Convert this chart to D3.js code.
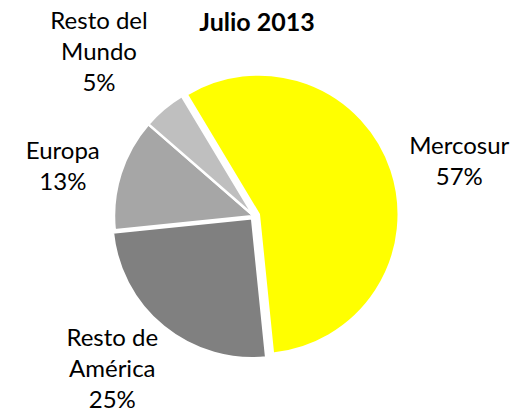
<!DOCTYPE html>
<html>
<head>
<meta charset="utf-8">
<script src="https://cdn.jsdelivr.net/npm/d3@7"></script>
<style>
  body { margin: 0; background: #fff; }
  text { font-family: Lato, "Open Sans", sans-serif; fill: #000; }
</style>
</head>
<body>
<svg id="chart"></svg>
<script>
// exports by destination, July 2013
const regions = ['Mercosur', 'Resto de América', 'Europa', 'Resto del Mundo']
const labelLines = [['Mercosur'], ['Resto de', 'América'], ['Europa'], ['Resto del', 'Mundo']]
const shares = [57, 25, 13, 5]
const colors = ['#FFFF00', '#808080', '#A6A6A6', '#BFBFBF']
const explode = [5, 3, 0, 0]
// hand nudges so the labels sit where excel put them
const labelNudge = [[6, 12], [-9, -10], [9, 14], [-20, -3]]

const width = 516, height = 414
const cx = 254, cy = 216, radius = 140, labelRadius = 210

const svg = d3.select('#chart')
    .attr('width', width)
    .attr('height', height)

svg.append('text')
    .attr('x', 257)
    .attr('y', 31)
    .attr('text-anchor', 'middle')
    .style('font-weight', 'bold')
    .style('font-size', '25px')
    .text('Julio 2013')

const pie = d3.pie()
    .sort(null)
    .value(d => d)
    .startAngle(-31 * Math.PI / 180)
    .endAngle(-31 * Math.PI / 180 + 2 * Math.PI)

const arcs = pie(shares)
const arc = d3.arc().innerRadius(0).outerRadius(radius)

const g = svg.append('g').attr('transform', `translate(${cx},${cy})`)

g.selectAll('path')
    .data(arcs)
    .join('path')
        .attr('d', arc)
        .attr('transform', (d, i) => {
            let mid = (d.startAngle + d.endAngle) / 2
            return `translate(${Math.sin(mid) * explode[i]},${-Math.cos(mid) * explode[i]})`
        })
        .style('fill', (d, i) => colors[i])
        .style('stroke', '#fff')
        .style('stroke-width', 2.5)

// labels: name lines + percentage, centred near the mid angle
const lineH = 31
const labels = g.selectAll('g.label')
    .data(arcs)
    .join('g')
        .attr('class', 'label')
        .attr('transform', (d, i) => {
            let mid = (d.startAngle + d.endAngle) / 2
            let x = Math.sin(mid) * labelRadius + labelNudge[i][0]
            let y = -Math.cos(mid) * labelRadius + labelNudge[i][1]
            return `translate(${x},${y})`
        })

labels.each(function(d, i) {
    let lines = labelLines[i].concat([shares[i] + '%'])
    let top = -(lines.length - 1) * lineH / 2
    d3.select(this).selectAll('text')
        .data(lines)
        .join('text')
            .attr('text-anchor', 'middle')
            .attr('y', (t, j) => top + j * lineH + 8)
            .style('font-size', '24px')
            .text(t => t)
})
</script>
</body>
</html>
